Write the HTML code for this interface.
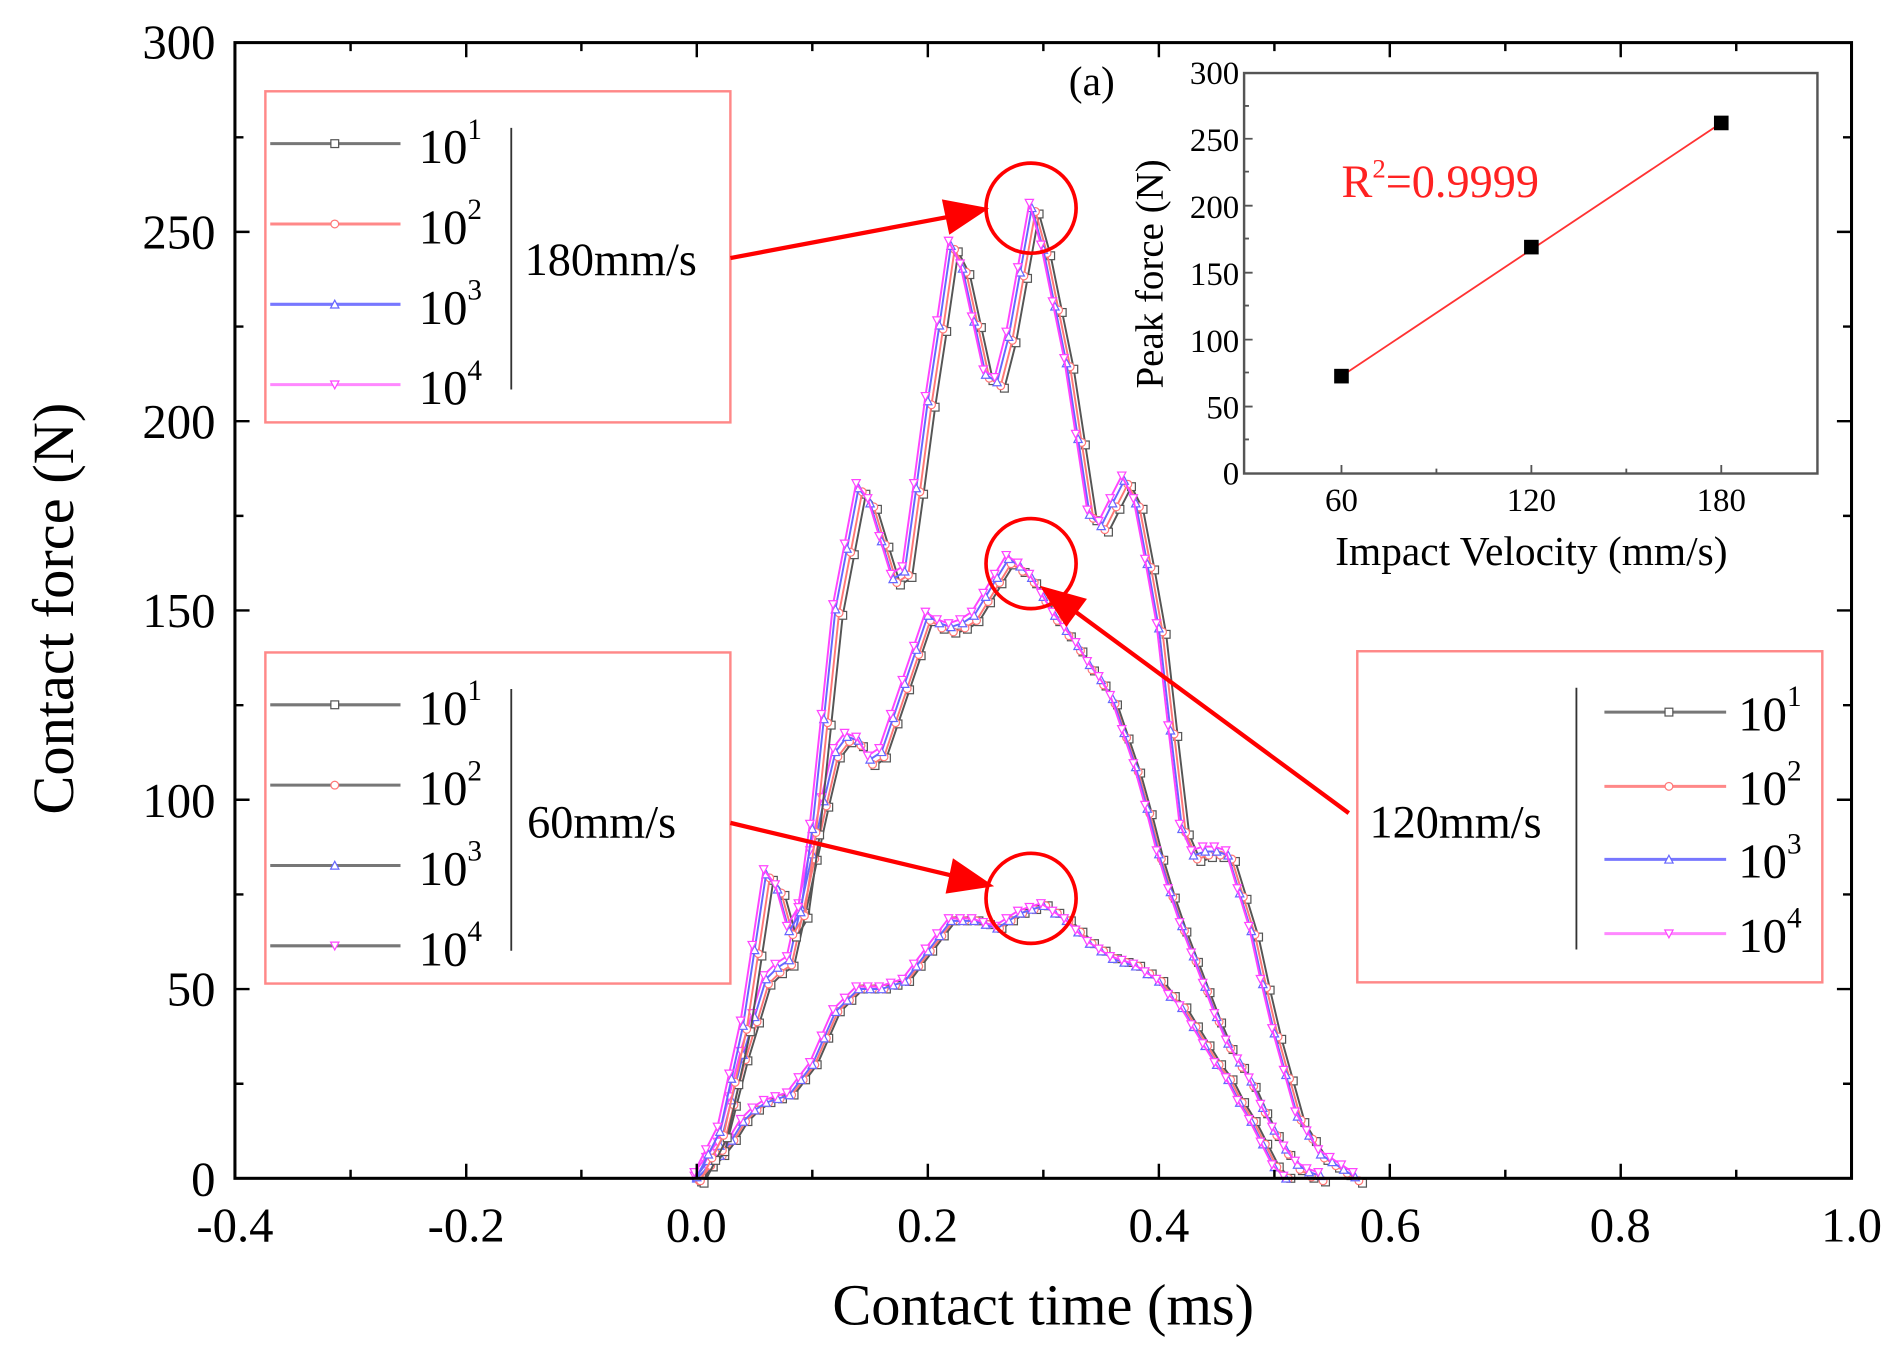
<!DOCTYPE html>
<html><head><meta charset="utf-8"><style>
html,body{margin:0;padding:0;background:#fff;overflow:hidden}
svg{display:block}
text{font-family:"Liberation Serif",serif}
</style></head><body>
<svg width="1899" height="1353" viewBox="0 0 1560 1111.5" preserveAspectRatio="none" xmlns="http://www.w3.org/2000/svg" xmlns:xlink="http://www.w3.org/1999/xlink">
<defs>
<marker id="mk" markerUnits="userSpaceOnUse" markerWidth="9" markerHeight="9" viewBox="-4.5 -4.5 9 9" refX="0" refY="0" overflow="visible"><rect x="-3.2" y="-3.2" width="6.4" height="6.4" fill="#fff" stroke="#555" stroke-width="1"/></marker>
<marker id="mr" markerUnits="userSpaceOnUse" markerWidth="9" markerHeight="9" viewBox="-4.5 -4.5 9 9" refX="0" refY="0" overflow="visible"><circle r="3.2" fill="#fff" stroke="#f77" stroke-width="1"/></marker>
<marker id="mb" markerUnits="userSpaceOnUse" markerWidth="9" markerHeight="9" viewBox="-4.5 -4.5 9 9" refX="0" refY="0" overflow="visible"><polygon points="0,-3.4 -3.4,3 3.4,3" fill="#fff" stroke="#66f" stroke-width="1"/></marker>
<marker id="mm" markerUnits="userSpaceOnUse" markerWidth="9" markerHeight="9" viewBox="-4.5 -4.5 9 9" refX="0" refY="0" overflow="visible"><polygon points="0,3.4 -3.4,-3 3.4,-3" fill="#fff" stroke="#f4f" stroke-width="1"/></marker>
<polyline id="c180" fill="none" points="572.4,968 581.9,949.3 591.4,930.7 600.9,887.1 610.4,843.6 619.9,781.4 629.3,719.2 638.8,731.6 648.3,765.8 657.8,750.3 667.3,681.9 676.8,591.7 686.3,501.5 695.8,451.7 705.3,402 714.8,414.4 724.2,445.5 733.7,476.6 743.2,470.4 752.7,402 762.2,330.5 771.7,268.3 781.2,202.9 790.7,221.6 800.2,265.1 809.7,308.7 819.1,314.9 828.6,277.6 838.1,224.7 847.6,171.8 857.1,206.1 866.6,252.7 876.1,299.3 885.6,361.5 895.1,423.8 904.6,433.1 914,414.4 923.5,395.8 933,414.4 942.5,464.2 952,517.1 961.5,601 971,681.9 980.5,703.7 990,700.5 999.5,700.5 1008.9,703.7 1018.4,734.8 1027.9,765.8 1037.4,809.4 1046.9,849.8 1056.4,884 1065.9,918.2 1075.4,933.8 1084.9,949.3 1094.4,955.6 1103.8,961.8 1113.3,968"/>
<polyline id="c120" fill="none" points="572.4,968 581.9,955.6 591.4,943.1 600.9,905.8 610.4,868.5 619.9,837.4 629.3,806.3 638.8,796.9 648.3,790.7 657.8,747.2 667.3,703.7 676.8,660.1 686.3,619.7 695.8,607.2 705.3,610.4 714.8,625.9 724.2,619.7 733.7,591.7 743.2,563.7 752.7,535.7 762.2,507.7 771.7,513.9 781.2,517.1 790.7,513.9 800.2,507.7 809.7,492.2 819.1,476.6 828.6,461.1 838.1,467.3 847.6,476.6 857.1,492.2 866.6,507.7 876.1,520.2 885.6,532.6 895.1,548.2 904.6,560.6 914,576.1 923.5,604.1 933,632.1 942.5,666.3 952,703.7 961.5,734.8 971,762.7 980.5,787.6 990,812.5 999.5,837.4 1008.9,859.2 1018.4,874.7 1027.9,890.3 1037.4,912 1046.9,930.7 1056.4,946.2 1065.9,958.7 1075.4,964.9 1084.9,968"/>
<polyline id="c60" fill="none" points="572.4,968 581.9,958.7 591.4,949.3 600.9,936.9 610.4,921.4 619.9,912 629.3,905.8 638.8,902.7 648.3,899.6 657.8,887.1 667.3,874.7 676.8,852.9 686.3,831.2 695.8,821.8 705.3,812.5 714.8,812.5 724.2,812.5 733.7,809.4 743.2,806.3 752.7,793.8 762.2,781.4 771.7,768.9 781.2,756.5 790.7,756.5 800.2,756.5 809.7,759.6 819.1,762.7 828.6,756.5 838.1,750.3 847.6,747.2 857.1,744.1 866.6,750.3 876.1,756.5 885.6,765.8 895.1,775.2 904.6,781.4 914,787.6 923.5,790.7 933,793.8 942.5,800.1 952,806.3 961.5,818.7 971,828 980.5,843.6 990,859.2 999.5,874.7 1008.9,887.1 1018.4,905.8 1027.9,921.4 1037.4,940 1046.9,958.7 1056.4,968"/>
</defs>
<rect width="1560" height="1112" fill="#fff"/>
<g stroke-width="1.6">
<use xlink:href="#c60" transform="translate(4,0)" stroke="#555" marker-start="url(#mk)" marker-mid="url(#mk)" marker-end="url(#mk)"/>
<use xlink:href="#c60" transform="translate(2,0)" stroke="#f77" marker-start="url(#mr)" marker-mid="url(#mr)" marker-end="url(#mr)"/>
<use xlink:href="#c60" transform="translate(0,0)" stroke="#66f" marker-start="url(#mb)" marker-mid="url(#mb)" marker-end="url(#mb)"/>
<use xlink:href="#c60" transform="translate(-2,-2)" stroke="#f4f" marker-start="url(#mm)" marker-mid="url(#mm)" marker-end="url(#mm)"/>
<use xlink:href="#c120" transform="translate(4,3)" stroke="#555" marker-start="url(#mk)" marker-mid="url(#mk)" marker-end="url(#mk)"/>
<use xlink:href="#c120" transform="translate(2,2)" stroke="#f77" marker-start="url(#mr)" marker-mid="url(#mr)" marker-end="url(#mr)"/>
<use xlink:href="#c120" transform="translate(0,-2)" stroke="#66f" marker-start="url(#mb)" marker-mid="url(#mb)" marker-end="url(#mb)"/>
<use xlink:href="#c120" transform="translate(-2,-5)" stroke="#f4f" marker-start="url(#mm)" marker-mid="url(#mm)" marker-end="url(#mm)"/>
<use xlink:href="#c180" transform="translate(6,4)" stroke="#555" marker-start="url(#mk)" marker-mid="url(#mk)" marker-end="url(#mk)"/>
<use xlink:href="#c180" transform="translate(3,2)" stroke="#f77" marker-start="url(#mr)" marker-mid="url(#mr)" marker-end="url(#mr)"/>
<use xlink:href="#c180" transform="translate(0,-1)" stroke="#66f" marker-start="url(#mb)" marker-mid="url(#mb)" marker-end="url(#mb)"/>
<use xlink:href="#c180" transform="translate(-2,-5)" stroke="#f4f" marker-start="url(#mm)" marker-mid="url(#mm)" marker-end="url(#mm)"/>
</g>
<!-- main axes -->
<rect x="193" y="35" width="1328" height="933" fill="none" stroke="#000" stroke-width="2.5"/>
<path stroke="#000" stroke-width="2" fill="none" d="
M193,968v-12M288,968v-7M383,968v-12M477.6,968v-7M572.4,968v-12M667.3,968v-7M762.2,968v-12M857.1,968v-7M952,968v-12M1046.9,968v-7M1141.7,968v-12M1236.6,968v-7M1331.4,968v-12M1426.3,968v-7
M288,35v7M383,35v12M477.6,35v7M572.4,35v12M667.3,35v7M762.2,35v12M857.1,35v7M952,35v12M1046.9,35v7M1141.7,35v12M1236.6,35v7M1331.4,35v12M1426.3,35v7
M193,890.3h7M193,812.5h12M193,734.8h7M193,657h12M193,579.3h7M193,501.5h12M193,423.8h7M193,346h12M193,268.3h7M193,190.5h12M193,112.8h7
M1521,890.3h-7M1521,812.5h-12M1521,734.8h-7M1521,657h-12M1521,579.3h-7M1521,501.5h-12M1521,423.8h-7M1521,346h-12M1521,268.3h-7M1521,190.5h-12M1521,112.8h-7"/>
<g font-size="40" fill="#000" text-anchor="end">
<text x="177" y="982">0</text><text x="177" y="826">50</text><text x="177" y="671">100</text>
<text x="177" y="515">150</text><text x="177" y="360">200</text><text x="177" y="204">250</text><text x="177" y="48">300</text>
</g>
<g font-size="40" fill="#000" text-anchor="middle">
<text x="193" y="1020">-0.4</text><text x="383" y="1020">-0.2</text><text x="572" y="1020">0.0</text>
<text x="762" y="1020">0.2</text><text x="952" y="1020">0.4</text><text x="1142" y="1020">0.6</text>
<text x="1331" y="1020">0.8</text><text x="1521" y="1020">1.0</text>
<text x="857" y="1088" font-size="48">Contact time (ms)</text>
<text transform="translate(60,500) rotate(-90)" font-size="48">Contact force (N)</text>
</g>
<text x="878" y="78" font-size="34">(a)</text>
<!-- inset -->
<rect x="1022" y="60" width="471" height="329" fill="#fff" stroke="#555" stroke-width="2"/>
<path stroke="#555" stroke-width="1.5" d="M1022,334h7M1022,279h7M1022,224h7M1022,169h7M1022,114h7M1022,361h4M1022,306h4M1022,251h4M1022,196h4M1022,141h4M1022,87h4M1102,389v-7M1180,389v-4M1258,389v-7M1336,389v-4M1414,389v-7"/>
<g font-size="27" fill="#000" text-anchor="end">
<text x="1018" y="398">0</text><text x="1018" y="344">50</text><text x="1018" y="289">100</text>
<text x="1018" y="234">150</text><text x="1018" y="179">200</text><text x="1018" y="124">250</text><text x="1018" y="69">300</text>
</g>
<g font-size="27" fill="#000" text-anchor="middle">
<text x="1102" y="420">60</text><text x="1258" y="420">120</text><text x="1414" y="420">180</text>
<text x="1258" y="464" font-size="34">Impact Velocity (mm/s)</text>
<text transform="translate(955,225) rotate(-90)" font-size="32">Peak force (N)</text>
</g>
<line x1="1102" y1="309" x2="1414" y2="101" stroke="#f33" stroke-width="1.5"/>
<rect x="1096" y="303" width="12" height="12" fill="#000"/>
<rect x="1252" y="197" width="12" height="12" fill="#000"/>
<rect x="1408" y="95" width="12" height="12" fill="#000"/>
<text x="1102" y="162" font-size="38" fill="#f22">R<tspan font-size="22" dy="-16">2</tspan><tspan dy="16">=0.9999</tspan></text>
<!-- legends -->
<g fill="none" stroke="#f88" stroke-width="2">
<rect x="218" y="75" width="382" height="272"/><rect x="218" y="536" width="382" height="272"/><rect x="1115" y="535" width="382" height="272"/>
</g>
<g stroke="#333" stroke-width="1.5"><line x1="420" y1="105" x2="420" y2="320"/><line x1="420" y1="566" x2="420" y2="781"/><line x1="1295" y1="565" x2="1295" y2="780"/></g>
<g stroke-width="2.5">
<polyline points="222,118 275,118 329,118" stroke="#777" marker-mid="url(#mk)"/>
<polyline points="222,184 275,184 329,184" stroke="#f88" marker-mid="url(#mr)"/>
<polyline points="222,250 275,250 329,250" stroke="#77f" marker-mid="url(#mb)"/>
<polyline points="222,316 275,316 329,316" stroke="#f8f" marker-mid="url(#mm)"/>
<polyline points="222,579 275,579 329,579" stroke="#777" marker-mid="url(#mk)"/>
<polyline points="222,645 275,645 329,645" stroke="#777" marker-mid="url(#mr)"/>
<polyline points="222,711 275,711 329,711" stroke="#777" marker-mid="url(#mb)"/>
<polyline points="222,777 275,777 329,777" stroke="#777" marker-mid="url(#mm)"/>
<polyline points="1318,585 1371,585 1418,585" stroke="#777" marker-mid="url(#mk)"/>
<polyline points="1318,646 1371,646 1418,646" stroke="#f88" marker-mid="url(#mr)"/>
<polyline points="1318,706 1371,706 1418,706" stroke="#77f" marker-mid="url(#mb)"/>
<polyline points="1318,767 1371,767 1418,767" stroke="#f8f" marker-mid="url(#mm)"/>
</g>
<g font-size="40" fill="#000">
<text x="344" y="134">10<tspan font-size="24" dy="-20">1</tspan></text>
<text x="344" y="200">10<tspan font-size="24" dy="-20">2</tspan></text>
<text x="344" y="266">10<tspan font-size="24" dy="-20">3</tspan></text>
<text x="344" y="332">10<tspan font-size="24" dy="-20">4</tspan></text>
<text x="344" y="595">10<tspan font-size="24" dy="-20">1</tspan></text>
<text x="344" y="661">10<tspan font-size="24" dy="-20">2</tspan></text>
<text x="344" y="727">10<tspan font-size="24" dy="-20">3</tspan></text>
<text x="344" y="793">10<tspan font-size="24" dy="-20">4</tspan></text>
<text x="1428" y="600">10<tspan font-size="24" dy="-20">1</tspan></text>
<text x="1428" y="661">10<tspan font-size="24" dy="-20">2</tspan></text>
<text x="1428" y="721">10<tspan font-size="24" dy="-20">3</tspan></text>
<text x="1428" y="782">10<tspan font-size="24" dy="-20">4</tspan></text>
</g>
<!-- circles and arrows -->
<g fill="none" stroke="#f00" stroke-width="3">
<circle cx="847" cy="171" r="37"/><circle cx="847" cy="463" r="37"/><circle cx="847" cy="738" r="37"/>
</g>
<g stroke="#f00" stroke-width="3.5" fill="#f00">
<line x1="600" y1="212" x2="780" y2="178"/><polygon points="808,172 776,166 781,190"/>
<line x1="600" y1="676" x2="785" y2="720"/><polygon points="812,727 784,708 779,732"/>
<line x1="1108" y1="668" x2="880" y2="500"/><polygon points="858,484 876,512 890,493"/>
</g>
<g font-size="38" fill="#000">
<text x="431" y="226">180mm/s</text><text x="433" y="688">60mm/s</text><text x="1125" y="688">120mm/s</text>
</g>
</svg>
</body></html>
